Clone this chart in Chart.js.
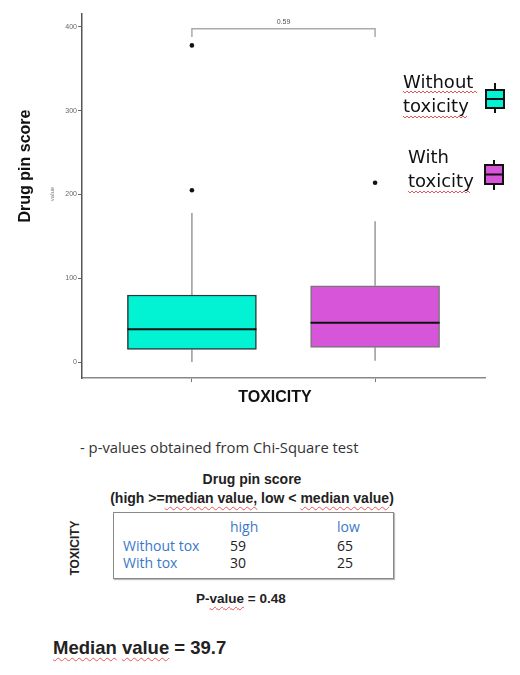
<!DOCTYPE html>
<html>
<head>
<meta charset="utf-8">
<script src="https://cdn.jsdelivr.net/npm/chart.js@4.4.0/dist/chart.umd.min.js"></script>
<style>
body { margin: 0; background: #fff; font-family: "Liberation Sans", Arial, sans-serif; }
#page { position: relative; width: 520px; height: 675px; overflow: hidden; }
#chartBox { position: absolute; left: 0; top: 0; width: 520px; height: 420px; }
.t { position: absolute; white-space: nowrap; line-height: 20px; color: #222; }
.o { font-family: "Open Sans", "Liberation Sans", sans-serif; }
.b { font-weight: bold; }
.sq { text-decoration: underline wavy #ee5555; text-decoration-thickness: 1px; text-underline-offset: 3px; }
.blue { color: #3b78c9; }
#tableBox { position: absolute; left: 113px; top: 512px; width: 279px; height: 65px; border: 1.5px solid #888; box-shadow: 1px 1px 1px #bbb; }
</style>
</head>
<body>
<div id="page">
  <div id="chartBox"><canvas id="boxChart" width="520" height="420"></canvas></div>

  <div class="t o" style="left:80px; top:437px; font-size:14.8px; color:#333;">- p-values obtained from Chi-Square test</div>
  <div class="t b" style="left:0; width:504px; text-align:center; top:469px; font-size:14px;">Drug pin score</div>
  <div class="t b" style="left:0; width:504px; text-align:center; top:488px; font-size:14px;">(high &gt;=<span class="sq">median value,</span> low &lt; <span class="sq">median value</span>)</div>
  <div id="tableBox"></div>
  <div id="tableCells"></div>
  <div class="t b" style="left:75px; top:548px; font-size:12px; transform: translate(-50%, -50%) rotate(-90deg);">TOXICITY</div>
  <div class="t b" style="left:196px; top:589px; font-size:13.5px;">P-<span class="sq">value</span> = 0.48</div>
  <div class="t b" style="left:53px; top:637px; font-size:18.5px; line-height:22px;"><span class="sq">Median</span> <span class="sq">value</span> = 39.7</div>
</div>

<script>
// boxplot stats
const groups = ['Without toxicity', 'With toxicity'];
const groupX = [1, 2];
const q1 = [15, 17.5];
const medians = [39, 47];
const q3 = [80, 91];
const whiskerLow = [0, 1.5];
const whiskerHigh = [178, 168];
const outliers = [[378, 205], [214]];
const yTicks = [0, 100, 200, 300, 400];
const boxColors = ['#02f3d3', '#d655d9'];
const boxBorders = ['#2a3a38', '#777777'];
const pLabel = '0.59';

// chi-square table
const tableCols = ['high', 'low'];
const tableRows = ['Without tox', 'With tox'];
const tableCounts = [[59, 65], [30, 25]];

// table cells
const cells = document.getElementById('tableCells');
const colLeft = [230, 337];
const rowTop = [536, 553];
let html = '';
tableCols.forEach((c, j) => {
    html += `<div class="t o blue" style="left:${colLeft[j]}px; top:517px; font-size:14px;">${c}</div>`;
});
tableRows.forEach((r, i) => {
    html += `<div class="t o blue" style="left:123px; top:${rowTop[i]}px; font-size:14px;">${r}</div>`;
    tableCounts[i].forEach((v, j) => {
        html += `<div class="t o" style="left:${colLeft[j]}px; top:${rowTop[i]}px; font-size:14px;">${v}</div>`;
    });
});
cells.innerHTML = html;

function squiggle(ctx, x0, x1, y) {
    ctx.save();
    ctx.strokeStyle = '#ee5555';
    ctx.lineWidth = 1;
    ctx.beginPath();
    for (let x = x0, k = 0; x <= x1; x += 2, k++) {
        const yy = y + (k % 2 ? 1 : -1);
        if (k === 0) ctx.moveTo(x, yy); else ctx.lineTo(x, yy);
    }
    ctx.stroke();
    ctx.restore();
}

function legendIcon(ctx, cx, top, bottom, boxTop, boxBottom, color) {
    ctx.save();
    ctx.strokeStyle = '#111';
    ctx.lineWidth = 2;
    ctx.beginPath();
    ctx.moveTo(cx, top); ctx.lineTo(cx, bottom);
    ctx.stroke();
    ctx.fillStyle = color;
    ctx.fillRect(cx - 9, boxTop, 18, boxBottom - boxTop);
    ctx.strokeRect(cx - 9, boxTop, 18, boxBottom - boxTop);
    ctx.beginPath();
    const mid = (boxTop + boxBottom) / 2;
    ctx.moveTo(cx - 9, mid); ctx.lineTo(cx + 9, mid);
    ctx.stroke();
    ctx.restore();
}

const boxParts = {
    id: 'boxParts',
    beforeDatasetsDraw(chart) {
        const { ctx, scales: { x, y } } = chart;
        ctx.save();
        ctx.strokeStyle = '#999';
        ctx.lineWidth = 1.5;
        groupX.forEach((g, i) => {
            const px = x.getPixelForValue(g);
            ctx.beginPath();
            ctx.moveTo(px, y.getPixelForValue(whiskerLow[i]));
            ctx.lineTo(px, y.getPixelForValue(q1[i]));
            ctx.moveTo(px, y.getPixelForValue(q3[i]));
            ctx.lineTo(px, y.getPixelForValue(whiskerHigh[i]));
            ctx.stroke();
        });
        ctx.restore();
    },
    afterDatasetsDraw(chart) {
        const { ctx, scales: { y } } = chart;
        const meta = chart.getDatasetMeta(0);
        ctx.save();
        ctx.strokeStyle = '#111';
        ctx.lineWidth = 2;
        groupX.forEach((g, i) => {
            const bar = meta.data[i];
            const half = bar.width / 2;
            const py = y.getPixelForValue(medians[i]);
            ctx.beginPath();
            ctx.moveTo(bar.x - half, py);
            ctx.lineTo(bar.x + half, py);
            ctx.stroke();
        });
        ctx.restore();
    },
    afterDraw(chart) {
        const { ctx, scales: { x, y } } = chart;
        ctx.save();

        // significance bracket
        const bx1 = x.getPixelForValue(groupX[0]);
        const bx2 = x.getPixelForValue(groupX[1]);
        const by = y.getPixelForValue(398);
        const byEnd = y.getPixelForValue(388);
        ctx.strokeStyle = '#aaa';
        ctx.lineWidth = 1.5;
        ctx.beginPath();
        ctx.moveTo(bx1, byEnd); ctx.lineTo(bx1, by); ctx.lineTo(bx2, by); ctx.lineTo(bx2, byEnd);
        ctx.stroke();
        ctx.fillStyle = '#555';
        ctx.font = '7px "Liberation Sans"';
        ctx.textAlign = 'center';
        ctx.textBaseline = 'bottom';
        ctx.fillText(pLabel, (bx1 + bx2) / 2, by - 3);

        // axis titles
        ctx.fillStyle = '#111';
        ctx.font = 'bold 16px "Liberation Sans"';
        ctx.textBaseline = 'middle';
        ctx.fillText('TOXICITY', 275, 398);
        ctx.save();
        ctx.translate(26, 166);
        ctx.rotate(-Math.PI / 2);
        ctx.fillText('Drug pin score', 0, 0);
        ctx.restore();
        ctx.save();
        ctx.translate(52, 194);
        ctx.rotate(-Math.PI / 2);
        ctx.fillStyle = '#777';
        ctx.font = '6px "Liberation Sans"';
        ctx.fillText('value', 0, 0);
        ctx.restore();

        // legend
        ctx.fillStyle = '#111';
        ctx.font = '18px "DejaVu Sans"';
        ctx.textAlign = 'left';
        ctx.fillText('Without', 403, 83);
        ctx.fillText('toxicity', 403, 107);
        ctx.fillText('With', 408, 158);
        ctx.fillText('toxicity', 408, 182);
        squiggle(ctx, 403, 478, 92);
        squiggle(ctx, 403, 468, 117);
        squiggle(ctx, 408, 470, 192);
        legendIcon(ctx, 495, 83, 113, 90, 108, boxColors[0]);
        legendIcon(ctx, 494, 160, 190, 165, 184, boxColors[1]);

        ctx.restore();
    }
};

new Chart(document.getElementById('boxChart'), {
    type: 'bar',
    data: {
        datasets: [{
            label: 'box',
            data: groupX.map((g, i) => ({ x: g, y: [q1[i], q3[i]] })),
            backgroundColor: boxColors,
            borderColor: boxBorders,
            borderWidth: 1.5,
            borderSkipped: false,
            barThickness: 129
        }, {
            type: 'scatter',
            label: 'outliers',
            data: outliers.flatMap((arr, i) => arr.map(v => ({ x: groupX[i], y: v }))),
            backgroundColor: '#111',
            borderWidth: 0,
            pointRadius: 2.3
        }]
    },
    options: {
        responsive: false,
        animation: false,
        layout: { padding: { top: 14, right: 35, left: 0, bottom: 0 }, autoPadding: false },
        plugins: { legend: { display: false }, tooltip: { enabled: false } },
        scales: {
            x: {
                type: 'linear',
                offset: false,
                min: 0.4,
                max: 2.6,
                afterBuildTicks: axis => { axis.ticks = groupX.map(v => ({ value: v })); },
                afterFit: axis => { axis.height = 42; },
                ticks: { callback: () => '', padding: 0 },
                grid: { offset: false, drawOnChartArea: false, drawTicks: true, tickLength: 4, color: '#777' },
                border: { display: true, color: '#888', width: 1.5 }
            },
            y: {
                min: -19.1,
                max: 415.5,
                afterBuildTicks: axis => { axis.ticks = yTicks.map(v => ({ value: v })); },
                afterFit: axis => { axis.width = 82; },
                ticks: { color: '#666', font: { size: 7, family: 'Liberation Sans' }, padding: 1 },
                grid: { drawOnChartArea: false, drawTicks: true, tickLength: 4, color: '#666' },
                border: { display: true, color: '#555', width: 1.5 }
            }
        }
    },
    plugins: [boxParts]
});
</script>
</body>
</html>
